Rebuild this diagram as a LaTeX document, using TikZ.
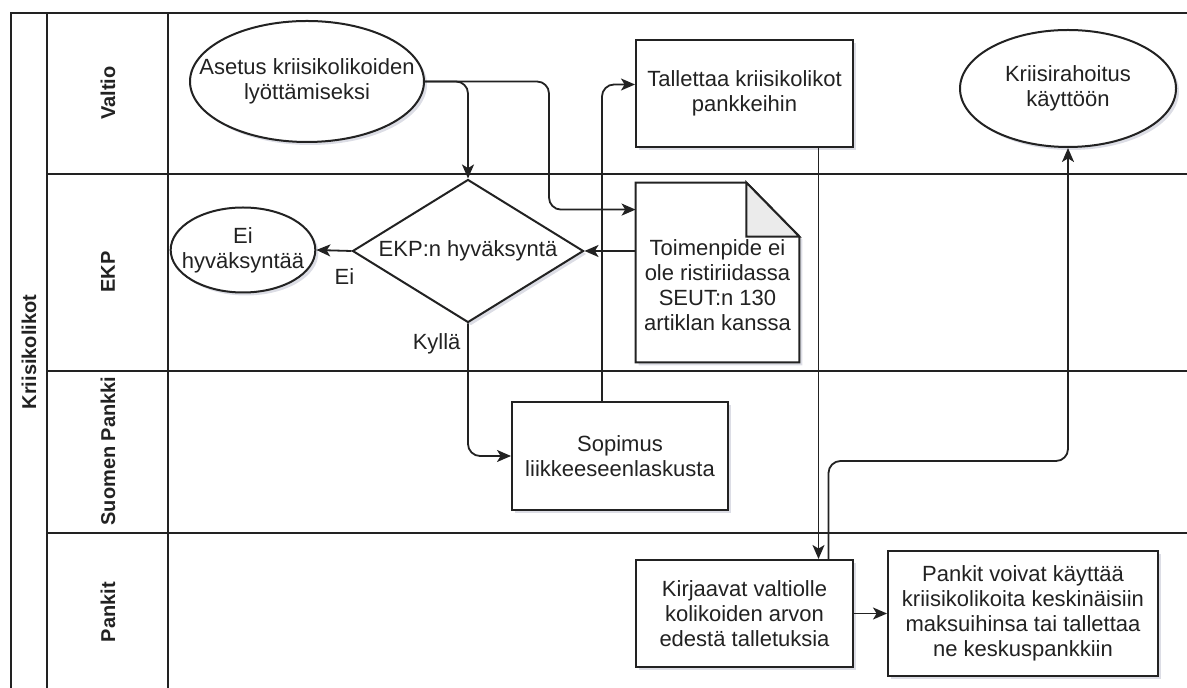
\documentclass[tikz,border=0pt]{standalone}
\usepackage{fontspec}
\setmainfont{Liberation Sans}
\usetikzlibrary{shapes.geometric, arrows.meta, shadows, positioning, calc}

\definecolor{inkgray}{HTML}{222222}
\definecolor{foldgray}{HTML}{EBEBEB}
\definecolor{shadowblue}{HTML}{8A8FA8}

\tikzset{
  softshadow/.style={drop shadow={shadow xshift=1.5pt, shadow yshift=-1.5pt, fill=shadowblue, opacity=0.3}},
  box/.style={draw=inkgray, fill=white, line width=1pt, align=center,
    minimum width=108.5pt, minimum height=53.5pt, inner sep=2pt, softshadow},
  oval/.style={box, ellipse, inner sep=0pt},
  decision/.style={box, diamond, aspect=1.6, inner sep=1pt},
  flow/.style={draw=inkgray, line width=0.9pt, rounded corners=6pt,
    -{Stealth[length=7pt, width=6pt, inset=1.8pt]}},
  laneline/.style={draw=inkgray, line width=1.1pt},
  lanelabel/.style={font=\fontsize{10}{12}\selectfont\bfseries, rotate=90},
  edgelabel/.style={font=\fontsize{11}{12}\selectfont, text=inkgray},
}

\begin{document}
\begin{tikzpicture}[x=0.5pt, y=-0.5pt, font=\fontsize{11}{12.5}\selectfont, text=inkgray]
  \useasboundingbox (0,0) rectangle (1187,688);

  % 1. Pool and lanes
  \draw[laneline] (1187,13) -- (11,13) -- (11,688);
  \draw[laneline] (47,13) -- (47,688);
  \draw[laneline] (168,13) -- (168,688);
  \foreach \y in {174,371,533}
    \draw[laneline] (47,\y) -- (1187,\y);

  \node[lanelabel] (pool) at (29,352) {Kriisikolikot};
  \node[lanelabel] (valtio) at (108,93) {Valtio};
  \node[lanelabel] (ekplane) at (108,272) {EKP};
  \node[lanelabel] (suomen) at (108,451) {Suomen Pankki};
  \node[lanelabel] (pankitlane) at (108,612) {Pankit};

  % 2. Steps
  \node[oval, minimum width=117pt, minimum height=60.5pt, inner xsep=-14pt] (asetus) at (307,81.5) {Asetus kriisikolikoiden\\lyöttämiseksi};
  \node[oval, minimum width=71.5pt, minimum height=42.5pt, inner xsep=-5pt] (ei) at (243,250) {Ei\\hyväksyntää};
  \node[decision, minimum width=115.5pt, minimum height=71.5pt] (ekp) at (468,251) {EKP:n hyväksyntä};
  \node[box] (tallettaa) at (744.5,93.5) {Tallettaa kriisikolikot\\pankkeihin};
  \node[oval, minimum width=108pt, minimum height=58.5pt] (rahoitus) at (1068,88.5) {Kriisirahoitus\\käyttöön};

  % document with folded corner
  \node[minimum width=81.5pt, minimum height=89.5pt, inner sep=0pt] (doc) at (717.5,272.5) {};
  \draw[draw=inkgray, line width=1pt, fill=white, softshadow] (doc.north west) -- ([xshift=-26.5pt]doc.north east)
    -- ([yshift=-27pt]doc.north east) -- (doc.south east) -- (doc.south west) -- cycle;
  \draw[draw=inkgray, line width=1pt, fill=foldgray] ([xshift=-26.5pt]doc.north east)
    -- ([xshift=-26.5pt, yshift=-27pt]doc.north east) -- ([yshift=-27pt]doc.north east) -- cycle;
  \node[align=center] (doctext) at (717.5,285) {Toimenpide ei\\ole ristiriidassa\\SEUT:n 130\\artiklan kanssa};

  \node[box, minimum width=108pt, minimum height=54pt] (sopimus) at (620,456) {Sopimus\\liikkeeseenlaskusta};
  \node[box] (kirjaavat) at (744.5,613.5) {Kirjaavat valtiolle\\kolikoiden arvon\\edestä talletuksia};
  \node[box, minimum width=135pt, minimum height=62.5pt] (pankit) at (1023,613.5) {Pankit voivat käyttää\\kriisikolikoita keskinäisiin\\maksuihinsa tai tallettaa\\ne keskuspankkiin};

  % 3. Connectors
  \draw[flow] (asetus.east) -| (ekp.north);
  \draw[flow] (asetus.east) -- ++(124,0) |- ([yshift=-13.5pt]doc.north west);
  \draw[flow] (doc.west |- ekp.east) -- (ekp.east);
  \draw[flow] (ekp.west) -- node[edgelabel, below=5pt, pos=0.2] (eilabel) {Ei} (ei.east);
  \draw[flow] (ekp.south) |- node[edgelabel, left, pos=0.075] (kyllalabel) {Kyllä} (sopimus.west);
  \draw[flow] ([xshift=-9pt]sopimus.north) |- ([yshift=4.5pt]tallettaa.west);
  \draw[flow] ([xshift=37pt]tallettaa.south) -- ([xshift=37pt]kirjaavat.north);
  \draw[flow] ([xshift=42pt]kirjaavat.north) -- ++(0,-98) -| (rahoitus.south);
  \draw[flow] (kirjaavat.east) -- (pankit.west);
\end{tikzpicture}
\end{document}
